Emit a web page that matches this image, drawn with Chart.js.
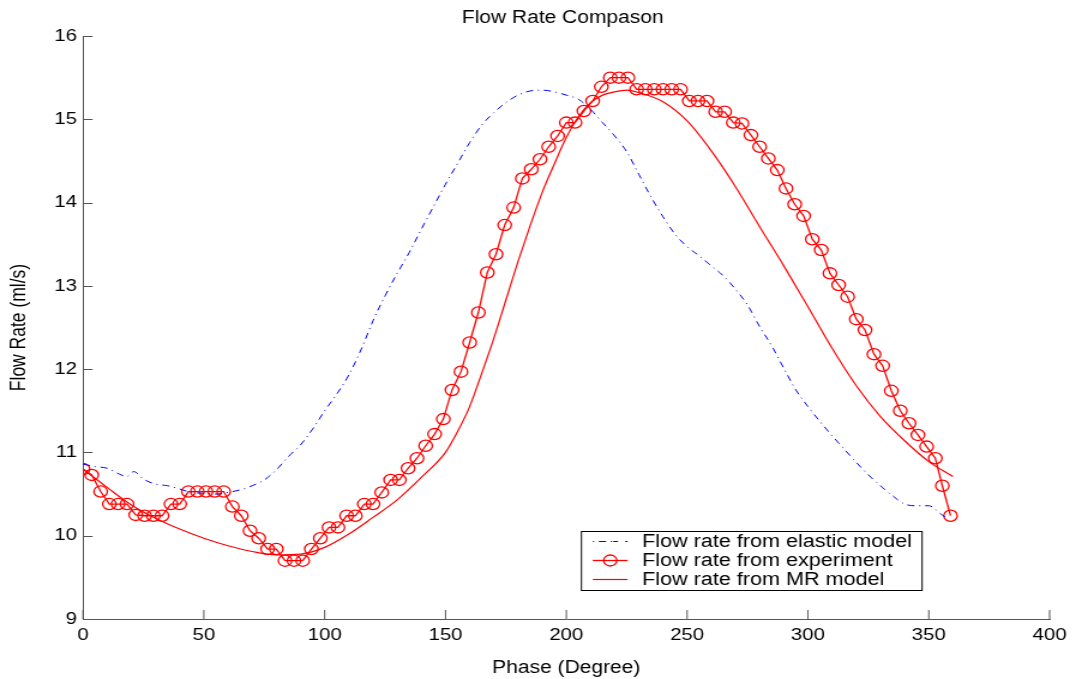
<!DOCTYPE html>
<html><head><meta charset="utf-8">
<script src="https://cdn.jsdelivr.net/npm/chart.js@4.4.1/dist/chart.umd.min.js"></script>
<style>html,body{margin:0;padding:0;background:#fff;overflow:hidden}canvas{display:block}</style>
</head><body>
<canvas id="c" width="897" height="679" style="width:1076px;height:679px"></canvas>
<script>
const chartTitle = 'Flow Rate Compason';
const xTitle = 'Phase (Degree)';
const yTitle = 'Flow Rate (ml/s)';
const seriesNames = ['Flow rate from elastic model', 'Flow rate from experiment', 'Flow rate from MR model'];
const xTicks = [0, 50, 100, 150, 200, 250, 300, 350, 400];
const yTicks = [9, 10, 11, 12, 13, 14, 15, 16];

const expPhase = [0,3.6,7.3,10.9,14.5,18.2,21.8,25.5,29.1,32.7,36.4,40,43.6,47.3,50.9,54.5,58.2,61.8,65.5,69.1,
  72.7,76.4,80,83.6,87.3,90.9,94.5,98.2,101.8,105.5,109.1,112.7,116.4,120,123.6,127.3,130.9,134.5,138.2,141.8,
  145.5,149.1,152.7,156.4,160,163.6,167.3,170.9,174.5,178.2,181.8,185.5,189.1,192.7,196.4,200,203.6,207.3,210.9,214.5,
  218.2,221.8,225.5,229.1,232.7,236.4,240,243.6,247.3,250.9,254.5,258.2,261.8,265.5,269.1,272.7,276.4,280,283.6,287.3,
  290.9,294.5,298.2,301.8,305.5,309.1,312.7,316.4,320,323.6,327.3,330.9,334.5,338.2,341.8,345.5,349.1,352.7,355.6,359];
const expFlow = [10.80,10.73,10.53,10.38,10.38,10.38,10.25,10.24,10.24,10.24,10.38,10.38,10.53,10.53,10.53,10.53,10.53,10.35,10.24,10.06,
  9.97,9.84,9.84,9.70,9.70,9.70,9.84,9.97,10.10,10.10,10.24,10.24,10.38,10.38,10.52,10.67,10.67,10.81,10.93,11.08,
  11.22,11.40,11.75,11.97,12.32,12.68,13.16,13.38,13.73,13.94,14.29,14.40,14.52,14.67,14.80,14.96,14.96,15.10,15.22,15.39,
  15.50,15.50,15.50,15.36,15.36,15.36,15.36,15.36,15.36,15.22,15.22,15.22,15.09,15.09,14.96,14.95,14.81,14.67,14.53,14.39,
  14.17,13.98,13.84,13.56,13.43,13.15,13.01,12.87,12.60,12.47,12.18,12.04,11.74,11.50,11.35,11.21,11.07,10.93,10.60,10.24];

const elasticPhase = [0,5,10,15,18,21,25,30,35,40,45,50,55,60,65,70,75,80,85,90,95,100,105,110,115,120,125,130,135,140,
  145,150,155,160,165,170,175,180,185,190,195,200,205,210,215,220,225,230,235,240,245,250,255,260,265,270,275,280,285,290,
  295,300,305,310,315,320,325,330,335,340,345,350,355,358];
const elasticFlow = [10.86,10.83,10.81,10.74,10.71,10.77,10.68,10.62,10.60,10.56,10.52,10.51,10.50,10.52,10.55,10.60,10.67,10.79,10.95,11.09,
  11.28,11.50,11.70,11.93,12.23,12.58,12.88,13.15,13.40,13.68,13.95,14.22,14.47,14.72,14.93,15.08,15.20,15.29,15.34,15.35,
  15.33,15.29,15.24,15.12,14.96,14.80,14.61,14.34,14.07,13.83,13.62,13.47,13.36,13.24,13.12,12.96,12.77,12.51,12.28,12.01,
  11.75,11.55,11.37,11.20,11.04,10.88,10.73,10.60,10.48,10.38,10.36,10.36,10.26,10.20];

const mrPhase = [0,10,20,30,40,50,60,70,80,90,100,110,120,130,140,150,155,160,165,170,175,180,185,190,195,200,205,210,215,220,
  225,230,240,250,260,270,280,290,300,310,320,330,340,350,360];
const mrFlow = [10.80,10.58,10.37,10.21,10.08,9.97,9.88,9.81,9.77,9.78,9.86,10.02,10.22,10.43,10.70,11.00,11.25,11.55,11.95,12.37,
  12.83,13.29,13.72,14.12,14.46,14.78,15.03,15.20,15.29,15.33,15.35,15.32,15.21,14.98,14.62,14.19,13.71,13.24,12.75,12.25,
  11.80,11.43,11.14,10.89,10.71];

const FONT = 'Liberation Sans, Arial, Helvetica, sans-serif';
const RED = '#ff0000', BLUE = '#0000ff', AXIS = '#555555';
const pts = (xs, ys) => xs.map((x, i) => ({x: x, y: ys[i]}));

const decor = {
  id: 'decor',
  afterDraw(chart) {
    const ctx = chart.ctx, ca = chart.chartArea;
    const xs = chart.scales.x, ys = chart.scales.y;
    ctx.save();
    // inward ticks
    ctx.strokeStyle = AXIS; ctx.lineWidth = 1;
    ctx.beginPath();
    yTicks.forEach(v => { const p = Math.round(ys.getPixelForValue(v)) + 0.5; ctx.moveTo(ca.left, p); ctx.lineTo(ca.left + 8, p); });
    xTicks.forEach(v => { const p = xs.getPixelForValue(v); ctx.moveTo(p, ca.bottom); ctx.lineTo(p, ca.bottom - 9); });
    ctx.stroke();
    // title
    ctx.fillStyle = '#000';
    ctx.font = '17.5px ' + FONT;
    ctx.textAlign = 'center'; ctx.textBaseline = 'middle';
    ctx.fillText(chartTitle, (ca.left + ca.right) / 2 - 3, 18);
    // legend
    const L = ca.left + 415, R = ca.left + 699, T = 531, B = 590;
    ctx.fillStyle = '#fff'; ctx.fillRect(L, T, R - L, B - T);
    ctx.strokeStyle = '#000'; ctx.lineWidth = 1;
    ctx.strokeRect(L + 0.5, T + 0.5, R - L, B - T);
    const rows = [541.5, 560.5, 579.5];
    const sx0 = L + 10, sx1 = L + 39, tx = L + 51;
    // elastic sample
    ctx.strokeStyle = BLUE; ctx.lineWidth = 1; ctx.setLineDash([1, 4, 6, 4, 1]);
    ctx.beginPath(); ctx.moveTo(sx0, rows[0]); ctx.lineTo(sx1, rows[0]); ctx.stroke();
    ctx.setLineDash([]);
    ctx.strokeStyle = RED; ctx.lineWidth = 1.3;
    ctx.beginPath(); ctx.moveTo(sx0, rows[1]); ctx.lineTo(sx1, rows[1]); ctx.stroke();
    ctx.beginPath(); ctx.arc((sx0 + sx1) / 2, rows[1], 5.5, 0, Math.PI * 2); ctx.stroke();
    ctx.lineWidth = 1.2;
    ctx.beginPath(); ctx.moveTo(sx0, rows[2]); ctx.lineTo(sx1, rows[2]); ctx.stroke();
    ctx.fillStyle = '#000'; ctx.font = '18px ' + FONT;
    ctx.textAlign = 'left'; ctx.textBaseline = 'middle';
    seriesNames.forEach((n, i) => ctx.fillText(n, tx, rows[i] + 1));
    ctx.restore();
  }
};

new Chart(document.getElementById('c'), {
  type: 'scatter',
  data: {
    datasets: [
      { label: seriesNames[0], data: pts(elasticPhase, elasticFlow), showLine: true, borderColor: BLUE, borderWidth: 1,
        borderDash: [6, 4, 1, 4], pointRadius: 0, cubicInterpolationMode: 'monotone', fill: false },
      { label: seriesNames[1], data: pts(expPhase, expFlow), showLine: true, borderColor: RED, borderWidth: 1.3,
        pointStyle: 'circle', pointRadius: 5.6, pointBorderColor: RED, pointBackgroundColor: 'rgba(0,0,0,0)',
        pointBorderWidth: 1.3, fill: false },
      { label: seriesNames[2], data: pts(mrPhase, mrFlow), showLine: true, borderColor: RED, borderWidth: 1.2,
        pointRadius: 0, cubicInterpolationMode: 'monotone', fill: false }
    ]
  },
  options: {
    responsive: false, devicePixelRatio: 1, animation: false,
    layout: { padding: { top: 36, right: 22, left: 0, bottom: 0 } },
    plugins: { legend: { display: false }, tooltip: { enabled: false }, title: { display: false } },
    scales: {
      x: {
        type: 'linear', min: 0, max: 400,
        afterBuildTicks: s => { s.ticks = xTicks.map(v => ({ value: v })); },
        afterFit: s => { s.height = 60; },
        grid: { display: false, drawTicks: false },
        border: { display: true, color: AXIS, width: 1 },
        ticks: { color: '#000', padding: 6, maxRotation: 0, font: { family: FONT, size: 17 } },
        title: { display: true, text: xTitle, color: '#000', padding: { top: 4, bottom: 0 }, font: { family: FONT, size: 17.5 } }
      },
      y: {
        type: 'linear', min: 9, max: 16,
        afterBuildTicks: s => { s.ticks = yTicks.map(v => ({ value: v })); },
        afterFit: s => { s.width = 69.2; },
        grid: { display: false, drawTicks: false },
        border: { display: true, color: AXIS, width: 1 },
        ticks: { color: '#000', padding: 5, font: { family: FONT, size: 17 } },
        title: { display: true, text: yTitle, color: '#000', padding: { top: 6, bottom: 0 }, font: { family: FONT, size: 17.5 } }
      }
    }
  },
  plugins: [decor]
});
</script>
</body></html>
